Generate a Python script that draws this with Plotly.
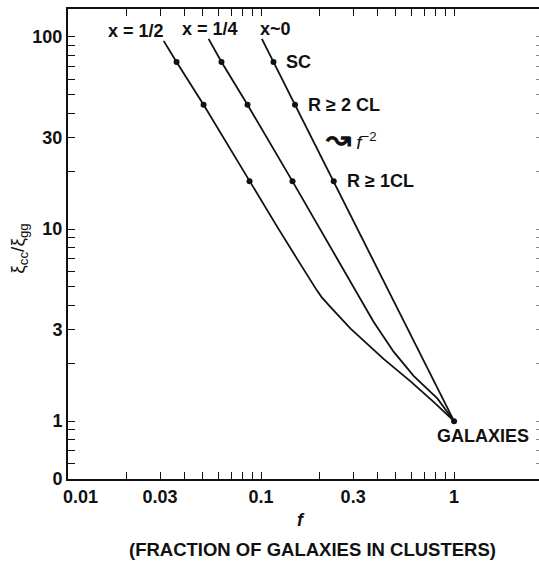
import numpy as np
import plotly.graph_objects as go

# Ratio of cluster to galaxy correlation amplitude versus fraction of galaxies in clusters
f_half = [0.0313, 0.0365, 0.0504, 0.0872, 0.1218, 0.1546, 0.1805, 0.1950, 0.2060, 0.2170, 0.2292, 0.2909, 0.4312, 0.595, 0.783, 1.0]
xi_half = [95.3, 74.0, 44.3, 17.7, 10.2, 6.93, 5.38, 4.78, 4.42, 4.14, 3.92, 3.03, 2.11, 1.61, 1.26, 1.0]

f_quarter = [0.0535, 0.0624, 0.0851, 0.1456, 0.3827, 0.486, 0.617, 0.821, 1.0]
xi_quarter = [97.6, 74.0, 44.3, 17.7, 3.29, 2.30, 1.72, 1.31, 1.0]

f_zero = [0.101, 1.0]
xi_zero = [97.6, 1.0]

# sample markers (superclusters, R>=2 clusters, R>=1 clusters)
xi_samples = [74.0, 44.3, 17.7]
f_samples_half = [0.0365, 0.0504, 0.0872]
f_samples_quarter = [0.0624, 0.0851, 0.1456]
f_samples_zero = [0.116, 0.150, 0.238]
sample_names = ["SC", "R ≥ 2 CL", "R ≥ 1CL"]

curve_names = ["x = 1/2", "x = 1/4", "x~0"]

x_tickvals = [0.02, 0.03, 0.04, 0.05, 0.06, 0.07, 0.08, 0.09, 0.1,
              0.2, 0.3, 0.4, 0.5, 0.6, 0.7, 0.8, 0.9, 1.0]
x_ticktext = ["", "0.03", "", "", "", "", "", "", "0.1",
              "", "0.3", "", "", "", "", "", "", "1"]
y_tickvals = [0.5, 0.6, 0.7, 0.8, 0.9, 1, 2, 3, 4, 5, 6, 7, 8, 9,
              10, 20, 30, 40, 50, 60, 70, 80, 90, 100]
y_ticktext = ["0", "", "", "", "", "1", "", "3", "", "", "", "", "", "",
              "10", "", "30", "", "", "", "", "", "", "100"]

FONT = "Liberation Sans, Arial, sans-serif"
INK = "#111111"

fig = go.Figure()

line_style = dict(color=INK, width=1.8)
for fx, yy in [(f_half, xi_half), (f_quarter, xi_quarter), (f_zero, xi_zero)]:
    fig.add_trace(go.Scatter(x=fx, y=yy, mode="lines", line=line_style,
                             hoverinfo="skip", showlegend=False))

for fx in [f_samples_half, f_samples_quarter, f_samples_zero]:
    fig.add_trace(go.Scatter(x=fx, y=xi_samples, mode="markers",
                             marker=dict(color=INK, size=6), showlegend=False))

# galaxy point at f = 1
fig.add_trace(go.Scatter(x=[f_zero[-1]], y=[xi_zero[-1]], mode="markers",
                         marker=dict(color=INK, size=6), showlegend=False))

# invisible trace carrying the right-hand tick axis
fig.add_trace(go.Scatter(x=[1], y=[1], yaxis="y2", mode="markers",
                         marker=dict(opacity=0), hoverinfo="skip", showlegend=False))

lab = dict(family=FONT, size=18, color=INK, weight="bold")

# curve labels at the top of each line
tops = [(f_half[0], xi_half[0], "right", 2), (f_quarter[0], xi_quarter[0], "center", 1),
        (f_zero[0], xi_zero[0], "left", -4)]
for (fx, yy, anchor, dx), name in zip(tops, curve_names):
    fig.add_annotation(x=np.log10(fx), y=np.log10(yy), text=name, showarrow=False,
                       xanchor=anchor, yanchor="middle", xshift=dx, yshift=10, font=lab)

# sample labels beside the x~0 line
for fx, yy, name in zip(f_samples_zero, xi_samples, sample_names):
    fig.add_annotation(x=np.log10(fx), y=np.log10(yy), text=name, showarrow=False,
                       xanchor="left", yanchor="middle", xshift=11, yshift=0, font=lab)

fig.add_annotation(x=np.log10(f_zero[-1]), y=np.log10(xi_zero[-1]), text="GALAXIES",
                   showarrow=False, xanchor="center", yanchor="middle",
                   xshift=29, yshift=-15, font=lab)

# slope marker next to the x~0 line
fig.add_annotation(x=-0.6813, y=1.4694,
                   text="<span style='font-size:30px'><b>↝</b></span> <i>f</i><sup>−2</sup>",
                   showarrow=False, xanchor="left", yanchor="middle",
                   font=dict(family=FONT, size=19, color=INK))

# axis titles and the first tick label
fig.add_annotation(xref="paper", yref="paper", x=0.0255, y=-0.038, text="0.01",
                   showarrow=False, xanchor="center", yanchor="middle", font=lab)
fig.add_annotation(xref="paper", yref="paper", x=0.494, y=-0.087, text="<i>f</i>",
                   showarrow=False, xanchor="center", yanchor="middle", font=lab)
fig.add_annotation(xref="paper", yref="paper", x=0.52, y=-0.151,
                   text="(FRACTION OF GALAXIES IN CLUSTERS)",
                   showarrow=False, xanchor="center", yanchor="middle",
                   font=dict(family=FONT, size=18.5, color=INK, weight="bold"))
fig.add_annotation(xref="paper", yref="paper", x=-0.104, y=0.49,
                   text="ξ<sub>cc</sub>/ξ<sub>gg</sub>", textangle=-90,
                   showarrow=False, xanchor="center", yanchor="middle",
                   font=dict(family=FONT, size=19, color=INK))

axis_common = dict(showgrid=False, zeroline=False, ticks="inside", ticklen=7,
                   tickwidth=1.3, tickcolor=INK, linecolor=INK, linewidth=2,
                   showline=True, tickfont=lab)

fig.update_layout(
    width=539, height=561,
    margin=dict(l=68, r=0, t=9, b=82),
    paper_bgcolor="white", plot_bgcolor="white",
    xaxis=dict(type="log", range=[-2, 0.44], tickvals=x_tickvals, ticktext=x_ticktext,
               mirror="ticks", **axis_common),
    yaxis=dict(type="log", range=[np.log10(0.5), 2.145], tickvals=y_tickvals,
               ticktext=y_ticktext, **axis_common),
    yaxis2=dict(type="log", range=[np.log10(0.5), 2.145], overlaying="y", side="right",
                tickvals=y_tickvals, showticklabels=False, showgrid=False, zeroline=False,
                showline=False, ticks="inside", ticklen=3, tickwidth=1.2,
                tickcolor="#888888"),
)

fig.write_html("out.html")
